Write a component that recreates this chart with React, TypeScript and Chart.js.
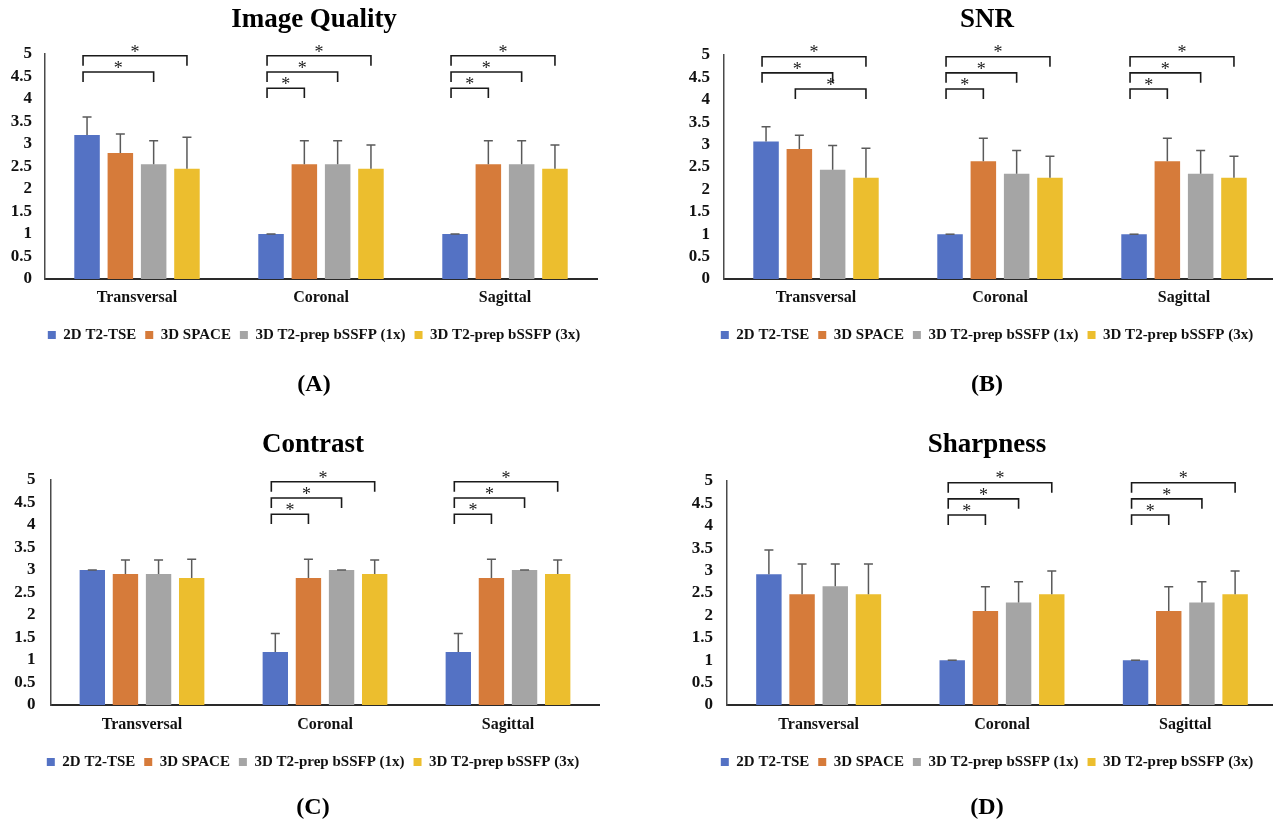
import React, { useEffect, useRef } from 'react';
import { Chart, registerables } from 'chart.js';
Chart.register(...registerables);

// ---------- data ----------
const categories = ['Transversal', 'Coronal', 'Sagittal'];
const seriesNames = ['2D T2-TSE', '3D SPACE', '3D T2-prep bSSFP (1x)', '3D T2-prep bSSFP (3x)'];
const seriesColors = ['#5472C4', '#D67B3A', '#A5A5A5', '#ECBE2E'];
const yTicks = [0, 0.5, 1, 1.5, 2, 2.5, 3, 3.5, 4, 4.5, 5];

// per series: [Transversal, Coronal, Sagittal]
const iqMeans = [[3.2, 1.0, 1.0], [2.8, 2.55, 2.55], [2.55, 2.55, 2.55], [2.45, 2.45, 2.45]];
const iqSD = [[0.4, 0, 0], [0.42, 0.52, 0.52], [0.52, 0.52, 0.52], [0.7, 0.53, 0.53]];
const snrMeans = [[3.07, 1.0, 1.0], [2.9, 2.63, 2.63], [2.44, 2.35, 2.35], [2.26, 2.26, 2.26]];
const snrSD = [[0.33, 0, 0], [0.31, 0.51, 0.51], [0.54, 0.52, 0.52], [0.66, 0.48, 0.48]];
const contrastMeans = [[3.0, 1.18, 1.18], [2.91, 2.82, 2.82], [2.91, 3.0, 3.0], [2.82, 2.91, 2.91]];
const contrastSD = [[0, 0.41, 0.41], [0.31, 0.42, 0.42], [0.31, 0, 0], [0.42, 0.31, 0.31]];
const sharpMeans = [[2.92, 1.0, 1.0], [2.47, 2.1, 2.1], [2.65, 2.29, 2.29], [2.47, 2.47, 2.47]];
const sharpSD = [[0.54, 0, 0], [0.68, 0.54, 0.54], [0.5, 0.46, 0.46], [0.68, 0.52, 0.52]];

// significance brackets: [category, fromSeries, toSeries, level]
const iqBrackets = [[0, 0, 3, 0], [0, 0, 2, 1], [1, 0, 3, 0], [1, 0, 2, 1], [1, 0, 1, 2], [2, 0, 3, 0], [2, 0, 2, 1], [2, 0, 1, 2]];
const snrBrackets = [[0, 0, 3, 0], [0, 0, 2, 1], [0, 1, 3, 2], [1, 0, 3, 0], [1, 0, 2, 1], [1, 0, 1, 2], [2, 0, 3, 0], [2, 0, 2, 1], [2, 0, 1, 2]];
const contrastBrackets = [[1, 0, 3, 0], [1, 0, 2, 1], [1, 0, 1, 2], [2, 0, 3, 0], [2, 0, 2, 1], [2, 0, 1, 2]];
const sharpBrackets = [[1, 0, 3, 0], [1, 0, 2, 1], [1, 0, 1, 2], [2, 0, 3, 0], [2, 0, 2, 1], [2, 0, 1, 2]];
const bracketLevels = [4.96, 4.6, 4.24];
const bracketLeg = 0.22;

const FONT = '"Liberation Serif", "Times New Roman", serif';

// ---------- plugin for error bars and brackets ----------
const sigPlugin = {
  id: 'sigMarks',
  afterDatasetsDraw(chart: any, _args: any, opts: any) {
    const ctx = chart.ctx;
    const y = chart.scales.y;
    ctx.save();
    ctx.strokeStyle = '#5a5a5a';
    ctx.lineWidth = 1.5;
    chart.data.datasets.forEach((ds: any, i: number) => {
      const meta = chart.getDatasetMeta(i);
      meta.data.forEach((bar: any, j: number) => {
        const v = ds.data[j] as number;
        const top = y.getPixelForValue(v + opts.sd[i][j]);
        ctx.beginPath();
        ctx.moveTo(bar.x, bar.y);
        ctx.lineTo(bar.x, top);
        ctx.moveTo(bar.x - 4.5, top);
        ctx.lineTo(bar.x + 4.5, top);
        ctx.stroke();
      });
    });
    ctx.strokeStyle = '#1a1a1a';
    ctx.fillStyle = '#1a1a1a';
    ctx.lineWidth = 1.6;
    ctx.font = '18px ' + FONT;
    ctx.textAlign = 'center';
    ctx.textBaseline = 'alphabetic';
    (opts.brackets as number[][]).forEach(([c, a, b, lvl]) => {
      const xa = chart.getDatasetMeta(a).data[c].x - 4;
      const xb = chart.getDatasetMeta(b).data[c].x;
      const yl = y.getPixelForValue(bracketLevels[lvl]);
      const yg = y.getPixelForValue(bracketLevels[lvl] - bracketLeg);
      ctx.beginPath();
      ctx.moveTo(xa, yg);
      ctx.lineTo(xa, yl);
      ctx.lineTo(xb, yl);
      ctx.lineTo(xb, yg);
      ctx.stroke();
      ctx.fillText('*', (xa + xb) / 2, yl + 1.7);
    });
    ctx.restore();
  },
};

// ---------- layout ----------
type Layout = {
  left: number; top: number; W: number; H: number;
  axisRel: number; plotRightRel: number; centerRel: number; tickPad: number;
  titleY: number; plotTop: number; plotBottom: number; labelY: number; legendY: number; subY: number;
};

const layoutA: Layout = { left: 0, top: 0, W: 636, H: 411, axisRel: 45, plotRightRel: 597, centerRel: 314, tickPad: 13, titleY: 20, plotTop: 54, plotBottom: 280, labelY: 299, legendY: 336, subY: 385 };
const layoutB: Layout = { left: 679, top: 0, W: 636, H: 411, axisRel: 45, plotRightRel: 597, centerRel: 308, tickPad: 14, titleY: 20, plotTop: 55, plotBottom: 280, labelY: 299, legendY: 336, subY: 385 };
const layoutC: Layout = { left: 0, top: 426, W: 636, H: 397, axisRel: 50.5, plotRightRel: 599.5, centerRel: 313, tickPad: 15, titleY: 19, plotTop: 54, plotBottom: 280, labelY: 300, legendY: 337, subY: 382 };
const layoutD: Layout = { left: 679, top: 426, W: 636, H: 397, axisRel: 48, plotRightRel: 598, centerRel: 308, tickPad: 14, titleY: 19, plotTop: 55, plotBottom: 280, labelY: 300, legendY: 337, subY: 382 };

function buildConfig(title: string, sub: string, means: number[][], sd: number[][], brackets: number[][], L: Layout): any {
  const titleSize = 27, titleLH = titleSize * 1.2;
  const subSize = 24, subLH = subSize * 1.2;
  const xFont = 16, xLH = xFont * 1.2;
  const legFont = 15, legPad = 9, legH = legFont + 2 * legPad;
  const titlePadTop = L.titleY - titleLH / 2;
  const titlePadBottom = L.plotTop - titlePadTop - titleLH;
  const legendTop = L.legendY - (legPad + legFont / 2);
  const xAxisH = legendTop - L.plotBottom;
  const xTickPad = L.labelY - L.plotBottom - xLH / 2;
  const subTop = legendTop + legH;
  const subPadTop = L.subY - subLH / 2 - subTop;
  const padBottom = L.H - (subTop + subPadTop + subLH);
  const padRight = L.W - 2 * L.centerRel;
  const dummyW = L.W - padRight - L.plotRightRel;

  return {
    type: 'bar',
    data: {
      labels: categories,
      datasets: seriesNames.map((name, i) => ({
        label: name,
        data: means[i],
        backgroundColor: seriesColors[i],
        borderWidth: 0,
        categoryPercentage: 0.724,
        barPercentage: 0.766,
      })),
    },
    plugins: [sigPlugin],
    options: {
      responsive: false,
      animation: false,
      devicePixelRatio: 1,
      layout: { padding: { left: 0, right: padRight, top: 0, bottom: padBottom } },
      scales: {
        x: {
          type: 'category',
          grid: { display: false, drawTicks: false },
          border: { display: true, color: '#2a2a2a', width: 2 },
          ticks: { color: '#111', font: { family: FONT, size: xFont, weight: 'bold' }, padding: xTickPad, maxRotation: 0, autoSkip: false },
          afterFit: (s: any) => { s.height = xAxisH; },
        },
        y: {
          type: 'linear',
          min: 0,
          max: 5,
          grid: { display: false, drawTicks: false },
          border: { display: true, color: '#4a4a4a', width: 1.5 },
          afterBuildTicks: (s: any) => { s.ticks = yTicks.map((v) => ({ value: v })); },
          ticks: {
            color: '#111',
            font: { family: FONT, size: 17, weight: 'bold', lineHeight: 1 },
            padding: L.tickPad,
            autoSkip: false,
            callback: (v: any) => String(v),
          },
          afterFit: (s: any) => { s.width = L.axisRel; },
        },
        r: {
          type: 'linear',
          position: 'right',
          display: true,
          grid: { display: false, drawTicks: false },
          border: { display: false },
          ticks: { display: false },
          afterFit: (s: any) => { s.width = dummyW; },
        },
      },
      plugins: {
        title: {
          display: true,
          text: title,
          color: '#000',
          font: { family: FONT, size: titleSize, weight: 'bold', lineHeight: 1.2 },
          padding: { top: titlePadTop, bottom: titlePadBottom },
        },
        subtitle: {
          display: true,
          position: 'bottom',
          text: sub,
          color: '#000',
          font: { family: FONT, size: subSize, weight: 'bold', lineHeight: 1.2 },
          padding: { top: subPadTop, bottom: 0 },
        },
        legend: {
          display: true,
          position: 'bottom',
          labels: {
            color: '#111',
            font: { family: FONT, size: legFont, weight: 'bold' },
            boxWidth: 8,
            boxHeight: 8,
            padding: legPad,
          },
        },
        tooltip: { enabled: false },
        sigMarks: { sd, brackets },
      },
    },
  };
}

function Panel(props: { title: string; sub: string; means: number[][]; sd: number[][]; brackets: number[][]; L: Layout }) {
  const ref = useRef<HTMLCanvasElement>(null);
  const { L } = props;
  useEffect(() => {
    const chart = new Chart(ref.current as HTMLCanvasElement, buildConfig(props.title, props.sub, props.means, props.sd, props.brackets, L));
    return () => chart.destroy();
  }, []);
  return (
    <div style={{ position: 'absolute', left: L.left, top: L.top, width: L.W, height: L.H }}>
      <canvas ref={ref} width={L.W} height={L.H} style={{ width: L.W, height: L.H, display: 'block' }} />
    </div>
  );
}

export default function App() {
  return (
    <div style={{ position: 'fixed', left: 0, top: 0, width: 1273, height: 823, overflow: 'hidden', background: '#fff' }}>
      <Panel title="Image Quality" sub="(A)" means={iqMeans} sd={iqSD} brackets={iqBrackets} L={layoutA} />
      <Panel title="SNR" sub="(B)" means={snrMeans} sd={snrSD} brackets={snrBrackets} L={layoutB} />
      <Panel title="Contrast" sub="(C)" means={contrastMeans} sd={contrastSD} brackets={contrastBrackets} L={layoutC} />
      <Panel title="Sharpness" sub="(D)" means={sharpMeans} sd={sharpSD} brackets={sharpBrackets} L={layoutD} />
    </div>
  );
}
